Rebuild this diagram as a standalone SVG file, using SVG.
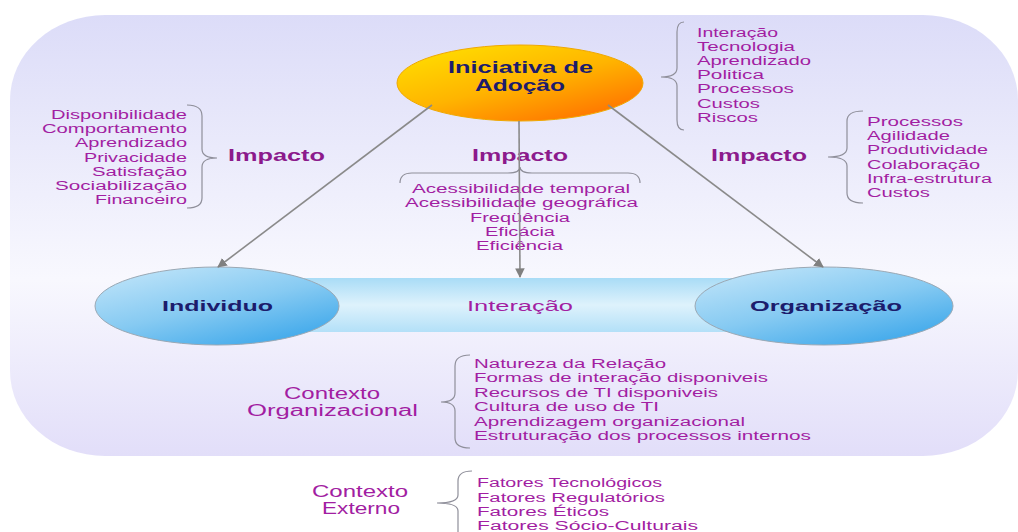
<svg xmlns="http://www.w3.org/2000/svg" width="1018" height="532" viewBox="0 0 1018 532">
<defs>
<linearGradient id="bg" x1="0" y1="0" x2="0" y2="1">
<stop offset="0" stop-color="#dcdcf8"/>
<stop offset="0.6" stop-color="#f8f8fe"/>
<stop offset="1" stop-color="#e2def9"/>
</linearGradient>
<linearGradient id="bar" x1="0" y1="0" x2="0" y2="1">
<stop offset="0" stop-color="#a9dcf6"/>
<stop offset="0.5" stop-color="#def2fc"/>
<stop offset="1" stop-color="#b3e0f8"/>
</linearGradient>
<linearGradient id="blue" x1="0.15" y1="0" x2="0.85" y2="1">
<stop offset="0" stop-color="#bfe4f9"/>
<stop offset="0.5" stop-color="#86caf2"/>
<stop offset="1" stop-color="#38a5ea"/>
</linearGradient>
<linearGradient id="orange" x1="0.1" y1="0" x2="0.9" y2="1">
<stop offset="0" stop-color="#ffe000"/>
<stop offset="0.5" stop-color="#ffb400"/>
<stop offset="1" stop-color="#ff6a00"/>
</linearGradient>
<marker id="ah" viewBox="0 0 10 10" refX="9" refY="5" markerWidth="6" markerHeight="6" orient="auto" markerUnits="strokeWidth">
<path d="M0,0 L10,5 L0,10 z" fill="#808080"/>
</marker>
<style>
.li{font-family:"Liberation Sans",Arial,sans-serif;font-size:12px;fill:#a21ea2}
.imp{font-family:"Liberation Sans",Arial,sans-serif;font-size:16px;font-weight:bold;fill:#8c1a8c}
.ctx{font-family:"Liberation Sans",Arial,sans-serif;font-size:16px;fill:#a21ea2}
.nd{font-family:"Liberation Sans",Arial,sans-serif;font-size:15px;font-weight:bold;fill:#1c1c6c}
.br{fill:none;stroke:#8f8f9a;stroke-width:1.2}
.cn{fill:none;stroke:#8a8a8a;stroke-width:1.6}
</style>
</defs>
<rect x="10" y="15" width="1008" height="441" rx="95" ry="85" fill="url(#bg)"/>
<g id="interacao">
<rect x="300" y="278" width="433" height="54" fill="url(#bar)"/>
<text class="li" x="467" y="311" textLength="106" lengthAdjust="spacingAndGlyphs" style="font-size:15px">Interação</text>
</g>
<g id="iniciativa">
<ellipse cx="520" cy="83" rx="123" ry="38" fill="url(#orange)" stroke="#f0a800" stroke-width="1"/>
<text class="nd" x="448" y="73" textLength="145" lengthAdjust="spacingAndGlyphs" style="font-size:17px">Iniciativa de</text>
<text class="nd" x="475" y="91" textLength="90" lengthAdjust="spacingAndGlyphs" style="font-size:17px">Adoção</text>
</g>
<g id="individuo">
<ellipse cx="217" cy="306" rx="122" ry="39" fill="url(#blue)" stroke="#9aa8b4" stroke-width="1"/>
<text class="nd" x="162" y="311" textLength="111" lengthAdjust="spacingAndGlyphs">Individuo</text>
</g>
<g id="organizacao">
<ellipse cx="824" cy="306" rx="129" ry="39" fill="url(#blue)" stroke="#9aa8b4" stroke-width="1"/>
<text class="nd" x="750" y="311" textLength="152" lengthAdjust="spacingAndGlyphs">Organização</text>
</g>
<g id="fatores-adocao">
<path class="br" d="M684,22 Q677,22 677,32 L677,68 Q677,77 661,77 Q677,77 677,86 L677,120 Q677,130 684,130"/>
<text class="li" x="697" y="37" textLength="81" lengthAdjust="spacingAndGlyphs">Interação</text>
<text class="li" x="697" y="51" textLength="98" lengthAdjust="spacingAndGlyphs">Tecnologia</text>
<text class="li" x="697" y="65" textLength="114" lengthAdjust="spacingAndGlyphs">Aprendizado</text>
<text class="li" x="697" y="79" textLength="67" lengthAdjust="spacingAndGlyphs">Politica</text>
<text class="li" x="697" y="93" textLength="97" lengthAdjust="spacingAndGlyphs">Processos</text>
<text class="li" x="697" y="108" textLength="63" lengthAdjust="spacingAndGlyphs">Custos</text>
<text class="li" x="697" y="122" textLength="61" lengthAdjust="spacingAndGlyphs">Riscos</text>
</g>
<g id="impacto-individuo">
<path class="br" d="M187,105 Q202,105 202,116 L202,149 Q202,158 217,158 Q202,158 202,167 L202,198 Q202,208 187,208"/>
<text class="imp" x="228" y="161" textLength="97" lengthAdjust="spacingAndGlyphs">Impacto</text>
<text class="li" x="51" y="119" textLength="136" lengthAdjust="spacingAndGlyphs">Disponibilidade</text>
<text class="li" x="42" y="133" textLength="145" lengthAdjust="spacingAndGlyphs">Comportamento</text>
<text class="li" x="75" y="147" textLength="112" lengthAdjust="spacingAndGlyphs">Aprendizado</text>
<text class="li" x="84" y="162" textLength="103" lengthAdjust="spacingAndGlyphs">Privacidade</text>
<text class="li" x="92" y="176" textLength="95" lengthAdjust="spacingAndGlyphs">Satisfação</text>
<text class="li" x="55" y="190" textLength="132" lengthAdjust="spacingAndGlyphs">Sociabilização</text>
<text class="li" x="95" y="204" textLength="92" lengthAdjust="spacingAndGlyphs">Financeiro</text>
</g>
<g id="impacto-interacao">
<path class="br" d="M400,183 Q400,173 412,173 L508,173 Q520,173 520,167 Q520,173 532,173 L628,173 Q640,173 640,183"/>
<text class="imp" x="472" y="161" textLength="96" lengthAdjust="spacingAndGlyphs">Impacto</text>
<text class="li" x="412" y="193" textLength="218" lengthAdjust="spacingAndGlyphs">Acessibilidade temporal</text>
<text class="li" x="405" y="207" textLength="233" lengthAdjust="spacingAndGlyphs">Acessibilidade geográfica</text>
<text class="li" x="470" y="222" textLength="100" lengthAdjust="spacingAndGlyphs">Freqüência</text>
<text class="li" x="485" y="236" textLength="70" lengthAdjust="spacingAndGlyphs">Eficácia</text>
<text class="li" x="476" y="250" textLength="87" lengthAdjust="spacingAndGlyphs">Eficiência</text>
</g>
<g id="impacto-organizacao">
<path class="br" d="M863,111 Q847,111 847,121 L847,148 Q847,157 828,157 Q847,157 847,166 L847,193 Q847,203 863,203"/>
<text class="imp" x="711" y="161" textLength="96" lengthAdjust="spacingAndGlyphs">Impacto</text>
<text class="li" x="867" y="126" textLength="96" lengthAdjust="spacingAndGlyphs">Processos</text>
<text class="li" x="867" y="140" textLength="83" lengthAdjust="spacingAndGlyphs">Agilidade</text>
<text class="li" x="867" y="154" textLength="121" lengthAdjust="spacingAndGlyphs">Produtividade</text>
<text class="li" x="867" y="169" textLength="113" lengthAdjust="spacingAndGlyphs">Colaboração</text>
<text class="li" x="867" y="183" textLength="125" lengthAdjust="spacingAndGlyphs">Infra-estrutura</text>
<text class="li" x="867" y="197" textLength="63" lengthAdjust="spacingAndGlyphs">Custos</text>
</g>
<g id="contexto-organizacional">
<path class="br" d="M470,355 Q455,355 455,366 L455,393 Q455,402 441,402 Q455,402 455,411 L455,438 Q455,448 470,448"/>
<text class="ctx" x="284" y="399" textLength="96" lengthAdjust="spacingAndGlyphs">Contexto</text>
<text class="ctx" x="247" y="416" textLength="171" lengthAdjust="spacingAndGlyphs">Organizacional</text>
<text class="li" x="474" y="368" textLength="192" lengthAdjust="spacingAndGlyphs">Natureza da Relação</text>
<text class="li" x="474" y="382" textLength="294" lengthAdjust="spacingAndGlyphs">Formas de interação disponiveis</text>
<text class="li" x="474" y="397" textLength="244" lengthAdjust="spacingAndGlyphs">Recursos de TI disponiveis</text>
<text class="li" x="474" y="411" textLength="185" lengthAdjust="spacingAndGlyphs">Cultura de uso de TI</text>
<text class="li" x="474" y="426" textLength="271" lengthAdjust="spacingAndGlyphs">Aprendizagem organizacional</text>
<text class="li" x="474" y="440" textLength="337" lengthAdjust="spacingAndGlyphs">Estruturação dos processos internos</text>
</g>
<g id="contexto-externo">
<path class="br" d="M472,471 Q458,471 458,481 L458,495 Q458,503 437,503 Q458,503 458,511 L458,540"/>
<text class="ctx" x="312" y="497" textLength="96" lengthAdjust="spacingAndGlyphs">Contexto</text>
<text class="ctx" x="322" y="514" textLength="78" lengthAdjust="spacingAndGlyphs">Externo</text>
<text class="li" x="477" y="487" textLength="185" lengthAdjust="spacingAndGlyphs">Fatores Tecnológicos</text>
<text class="li" x="477" y="502" textLength="188" lengthAdjust="spacingAndGlyphs">Fatores Regulatórios</text>
<text class="li" x="477" y="516" textLength="132" lengthAdjust="spacingAndGlyphs">Fatores Éticos</text>
<text class="li" x="477" y="530" textLength="221" lengthAdjust="spacingAndGlyphs">Fatores Sócio-Culturais</text>
</g>
<g id="connectors">
<line class="cn" x1="432" y1="105" x2="218" y2="267" marker-end="url(#ah)"/>
<line class="cn" x1="519" y1="121" x2="520" y2="277" marker-end="url(#ah)"/>
<line class="cn" x1="608" y1="105" x2="823" y2="267" marker-end="url(#ah)"/>
</g>
</svg>
